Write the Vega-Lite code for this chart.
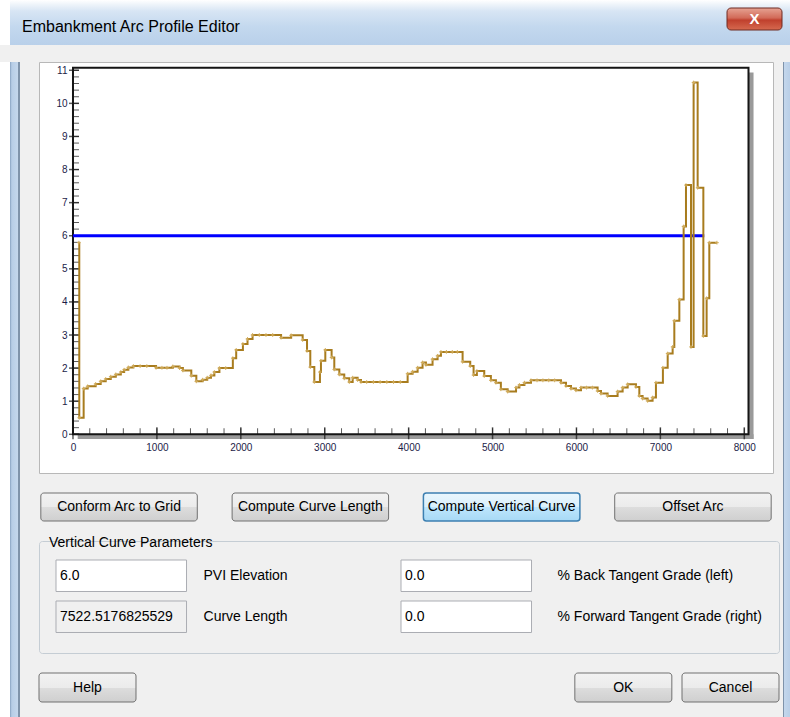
{
  "$schema": "https://vega.github.io/schema/vega-lite/v6.json",
  "background": "#f0f0f0",
  "padding": 0,
  "spacing": 16,
  "config": {
    "view": {"stroke": null},
    "font": "Liberation Sans",
    "text": {"font": "Liberation Sans", "fontSize": 14, "color": "#000000"},
    "title": {"font": "Liberation Sans"},
    "axisX": {"domain": false, "ticks": false, "grid": false, "title": null, "labelFontSize": 10, "labelColor": "#1c1c48", "labelPadding": 8, "offset": -39, "labelFlush": false, "labelOverlap": false, "format": "d"},
    "axisY": {"domain": false, "ticks": false, "grid": false, "title": null, "labelFontSize": 10, "labelColor": "#1c1c48", "labelPadding": 6, "offset": -34, "labelFlush": false, "labelOverlap": false, "format": "d"}
  },
  "datasets": {
    "profile": [
      {"x": 70, "y": 5.79}, {"x": 75, "y": 0.5}, {"x": 127, "y": 1.38}, {"x": 175, "y": 1.45},
      {"x": 270, "y": 1.52}, {"x": 330, "y": 1.6}, {"x": 390, "y": 1.67}, {"x": 450, "y": 1.74},
      {"x": 510, "y": 1.81}, {"x": 570, "y": 1.88}, {"x": 610, "y": 1.95}, {"x": 660, "y": 2.02},
      {"x": 720, "y": 2.06}, {"x": 800, "y": 2.06}, {"x": 880, "y": 2.06}, {"x": 990, "y": 2.01},
      {"x": 1060, "y": 2.01}, {"x": 1120, "y": 2.01}, {"x": 1190, "y": 2.05}, {"x": 1270, "y": 2.0},
      {"x": 1310, "y": 1.93}, {"x": 1410, "y": 1.77}, {"x": 1470, "y": 1.6}, {"x": 1545, "y": 1.65},
      {"x": 1600, "y": 1.71}, {"x": 1645, "y": 1.78}, {"x": 1685, "y": 1.88}, {"x": 1745, "y": 2.0},
      {"x": 1820, "y": 2.0}, {"x": 1905, "y": 2.3}, {"x": 1945, "y": 2.55}, {"x": 2025, "y": 2.73},
      {"x": 2080, "y": 2.88}, {"x": 2140, "y": 3.0}, {"x": 2220, "y": 3.0}, {"x": 2300, "y": 3.0},
      {"x": 2380, "y": 3.0}, {"x": 2480, "y": 2.92}, {"x": 2600, "y": 2.99}, {"x": 2737, "y": 2.85},
      {"x": 2789, "y": 2.52}, {"x": 2828, "y": 2.03}, {"x": 2876, "y": 1.58}, {"x": 2943, "y": 1.88},
      {"x": 2955, "y": 2.22}, {"x": 3007, "y": 2.55}, {"x": 3082, "y": 2.32}, {"x": 3114, "y": 1.96},
      {"x": 3174, "y": 1.81}, {"x": 3233, "y": 1.69}, {"x": 3293, "y": 1.58}, {"x": 3333, "y": 1.71},
      {"x": 3392, "y": 1.64}, {"x": 3432, "y": 1.58}, {"x": 3500, "y": 1.58}, {"x": 3580, "y": 1.58},
      {"x": 3660, "y": 1.58}, {"x": 3740, "y": 1.58}, {"x": 3820, "y": 1.58}, {"x": 3900, "y": 1.58},
      {"x": 3988, "y": 1.83}, {"x": 4047, "y": 1.89}, {"x": 4107, "y": 2.01}, {"x": 4166, "y": 2.17},
      {"x": 4206, "y": 2.1}, {"x": 4285, "y": 2.27}, {"x": 4345, "y": 2.37}, {"x": 4385, "y": 2.49},
      {"x": 4450, "y": 2.49}, {"x": 4520, "y": 2.49}, {"x": 4580, "y": 2.49}, {"x": 4643, "y": 2.19},
      {"x": 4734, "y": 2.06}, {"x": 4774, "y": 1.79}, {"x": 4813, "y": 1.91}, {"x": 4901, "y": 1.76},
      {"x": 4980, "y": 1.63}, {"x": 5040, "y": 1.56}, {"x": 5099, "y": 1.36}, {"x": 5180, "y": 1.29},
      {"x": 5280, "y": 1.41}, {"x": 5320, "y": 1.49}, {"x": 5380, "y": 1.56}, {"x": 5458, "y": 1.63},
      {"x": 5530, "y": 1.63}, {"x": 5600, "y": 1.63}, {"x": 5670, "y": 1.63}, {"x": 5740, "y": 1.63},
      {"x": 5816, "y": 1.56}, {"x": 5875, "y": 1.46}, {"x": 5935, "y": 1.38}, {"x": 5994, "y": 1.33},
      {"x": 6054, "y": 1.41}, {"x": 6120, "y": 1.41}, {"x": 6190, "y": 1.41}, {"x": 6252, "y": 1.31},
      {"x": 6292, "y": 1.23}, {"x": 6371, "y": 1.16}, {"x": 6490, "y": 1.29}, {"x": 6550, "y": 1.41},
      {"x": 6610, "y": 1.51}, {"x": 6709, "y": 1.43}, {"x": 6749, "y": 1.16}, {"x": 6788, "y": 1.08},
      {"x": 6848, "y": 1.01}, {"x": 6907, "y": 1.11}, {"x": 6947, "y": 1.56}, {"x": 7030, "y": 2.01},
      {"x": 7087, "y": 2.44}, {"x": 7146, "y": 2.64}, {"x": 7166, "y": 3.43}, {"x": 7226, "y": 4.07},
      {"x": 7277, "y": 6.28}, {"x": 7305, "y": 7.53}, {"x": 7365, "y": 2.64}, {"x": 7396, "y": 10.63},
      {"x": 7444, "y": 7.45}, {"x": 7512, "y": 2.97}, {"x": 7551, "y": 4.11}, {"x": 7583, "y": 5.79},
      {"x": 7674, "y": 5.79}
    ],
    "pvi": [{"x": 0, "y": 6}, {"x": 7522.5, "y": 6}],
    "xminor": [
      {"v": 0}, {"v": 200}, {"v": 400}, {"v": 600}, {"v": 800}, {"v": 1000}, {"v": 1200}, {"v": 1400},
      {"v": 1600}, {"v": 1800}, {"v": 2000}, {"v": 2200}, {"v": 2400}, {"v": 2600}, {"v": 2800}, {"v": 3000},
      {"v": 3200}, {"v": 3400}, {"v": 3600}, {"v": 3800}, {"v": 4000}, {"v": 4200}, {"v": 4400}, {"v": 4600},
      {"v": 4800}, {"v": 5000}, {"v": 5200}, {"v": 5400}, {"v": 5600}, {"v": 5800}, {"v": 6000}, {"v": 6200},
      {"v": 6400}, {"v": 6600}, {"v": 6800}, {"v": 7000}, {"v": 7200}, {"v": 7400}, {"v": 7600}, {"v": 7800},
      {"v": 8000}
    ],
    "xmajor": [
      {"v": 0}, {"v": 1000}, {"v": 2000}, {"v": 3000}, {"v": 4000}, {"v": 5000}, {"v": 6000}, {"v": 7000}, {"v": 8000}
    ],
    "yminor": [
      {"v": 0}, {"v": 0.2}, {"v": 0.4}, {"v": 0.6}, {"v": 0.8}, {"v": 1}, {"v": 1.2}, {"v": 1.4}, {"v": 1.6}, {"v": 1.8},
      {"v": 2}, {"v": 2.2}, {"v": 2.4}, {"v": 2.6}, {"v": 2.8}, {"v": 3}, {"v": 3.2}, {"v": 3.4}, {"v": 3.6}, {"v": 3.8},
      {"v": 4}, {"v": 4.2}, {"v": 4.4}, {"v": 4.6}, {"v": 4.8}, {"v": 5}, {"v": 5.2}, {"v": 5.4}, {"v": 5.6}, {"v": 5.8},
      {"v": 6}, {"v": 6.2}, {"v": 6.4}, {"v": 6.6}, {"v": 6.8}, {"v": 7}, {"v": 7.2}, {"v": 7.4}, {"v": 7.6}, {"v": 7.8},
      {"v": 8}, {"v": 8.2}, {"v": 8.4}, {"v": 8.6}, {"v": 8.8}, {"v": 9}, {"v": 9.2}, {"v": 9.4}, {"v": 9.6}, {"v": 9.8},
      {"v": 10}, {"v": 10.2}, {"v": 10.4}, {"v": 10.6}, {"v": 10.8}, {"v": 11}
    ],
    "ymajor": [
      {"v": 0}, {"v": 1}, {"v": 2}, {"v": 3}, {"v": 4}, {"v": 5}, {"v": 6}, {"v": 7}, {"v": 8}, {"v": 9}, {"v": 10}, {"v": 11}
    ]
  },
  "vconcat": [
    {
      "width": 790,
      "height": 45,
      "view": {"fill": "#c9dbee", "stroke": null},
      "title": {
        "text": "Embankment Arc Profile Editor",
        "anchor": "start",
        "frame": "group",
        "orient": "top",
        "offset": -43,
        "dx": 22,
        "baseline": "middle",
        "fontSize": 16,
        "fontWeight": "normal",
        "color": "#000000"
      },
      "layer": [
        {
          "data": {"values": [{}]},
          "mark": {
            "type": "rect",
            "fill": {"gradient": "linear", "x1": 0, "y1": 0, "x2": 0, "y2": 1,
              "stops": [{"offset": 0, "color": "#ffffff"}, {"offset": 0.1, "color": "#eef4fa"}, {"offset": 0.25, "color": "#d7e5f4"},
                        {"offset": 0.6, "color": "#c3d8ee"}, {"offset": 1, "color": "#b9d0ea"}]}
          }
        },
        {
          "data": {"values": [{}]},
          "mark": {
            "type": "rect",
            "fill": {"gradient": "linear", "x1": 0, "y1": 0, "x2": 1, "y2": 0,
              "stops": [{"offset": 0, "color": "#ffffff"}, {"offset": 0.0125, "color": "#ffffff"},
                        {"offset": 0.013, "color": "rgba(255,255,255,0)"}, {"offset": 1, "color": "rgba(255,255,255,0)"}]}
          }
        },
        {
          "data": {"values": [{"part": "close", "glyph": "X"}]},
          "encoding": {
            "x": {"field": "part", "type": "nominal", "axis": null,
                  "scale": {"domain": ["close"], "range": [727, 782], "paddingInner": 0, "paddingOuter": 0}},
            "y": {"field": "part", "type": "nominal", "axis": null,
                  "scale": {"domain": ["close"], "paddingInner": 0, "paddingOuter": 0.5227, "align": 0.348}}
          },
          "layer": [
            {
              "mark": {
                "type": "rect", "cornerRadius": 4, "stroke": "#6e2b22", "strokeWidth": 1,
                "fill": {"gradient": "linear", "x1": 0, "y1": 0, "x2": 0, "y2": 1,
                  "stops": [{"offset": 0, "color": "#e6a393"}, {"offset": 0.45, "color": "#d26a58"},
                            {"offset": 0.55, "color": "#c0402d"}, {"offset": 1, "color": "#d66a50"}]}
              }
            },
            {
              "mark": {"type": "text", "color": "#ffffff", "fontWeight": "bold", "fontSize": 15, "baseline": "middle"},
              "encoding": {"text": {"field": "glyph"}}
            }
          ]
        }
      ]
    },
    {
      "spacing": 0,
      "hconcat": [
        {
          "width": 38,
          "height": 656,
          "view": {"stroke": null, "fill": null},
          "data": {"values": [{}]},
          "mark": {
            "type": "rect",
            "fill": {"gradient": "linear", "x1": 0, "y1": 0, "x2": 1, "y2": 0,
              "stops": [{"offset": 0, "color": "#ffffff"}, {"offset": 0.26, "color": "#ffffff"},
                        {"offset": 0.27, "color": "#8ea8c6"}, {"offset": 0.31, "color": "#b7cde6"},
                        {"offset": 0.47, "color": "#c4d7ec"}, {"offset": 0.48, "color": "#7f93aa"},
                        {"offset": 0.52, "color": "#7f93aa"}, {"offset": 0.53, "color": "#f0f0f0"},
                        {"offset": 1, "color": "#f0f0f0"}]}
          }
        },
        {
          "spacing": 20,
          "bounds": "flush",
          "vconcat": [
            {
              "width": 734,
              "height": 411,
              "view": {"fill": "#ffffff", "stroke": "#b8b8b8", "strokeWidth": 1},
              "layer": [
                {
                  "data": {"values": [{}]},
                  "mark": {"type": "rect", "color": "#9a9a9a"},
                  "encoding": {
                    "x": {"datum": 56, "type": "quantitative", "scale": {"domain": [-405, 8342], "nice": false, "zero": false}, "axis": {"values": [0, 1000, 2000, 3000, 4000, 5000, 6000, 7000, 8000]}},
                    "x2": {"datum": 8110},
                    "y": {"datum": -0.14, "type": "quantitative", "scale": {"domain": [-1.17, 11.25], "nice": false, "zero": false}, "axis": {"values": [0, 1, 2, 3, 4, 5, 6, 7, 8, 9, 10, 11]}},
                    "y2": {"datum": 0}
                  }
                },
                {
                  "data": {"values": [{}]},
                  "mark": {"type": "rect", "color": "#9a9a9a"},
                  "encoding": {
                    "x": {"datum": 8050, "type": "quantitative", "scale": {"domain": [-405, 8342], "nice": false, "zero": false}, "axis": {"values": [0, 1000, 2000, 3000, 4000, 5000, 6000, 7000, 8000]}},
                    "x2": {"datum": 8110},
                    "y": {"datum": -0.14, "type": "quantitative", "scale": {"domain": [-1.17, 11.25], "nice": false, "zero": false}, "axis": {"values": [0, 1, 2, 3, 4, 5, 6, 7, 8, 9, 10, 11]}},
                    "y2": {"datum": 10.93}
                  }
                },
                {
                  "data": {"values": [{}]},
                  "mark": {"type": "rect", "fill": null, "stroke": "#151515", "strokeWidth": 2},
                  "encoding": {
                    "x": {"datum": 0, "type": "quantitative", "scale": {"domain": [-405, 8342], "nice": false, "zero": false}, "axis": {"values": [0, 1000, 2000, 3000, 4000, 5000, 6000, 7000, 8000]}},
                    "x2": {"datum": 8050},
                    "y": {"datum": 0, "type": "quantitative", "scale": {"domain": [-1.17, 11.25], "nice": false, "zero": false}, "axis": {"values": [0, 1, 2, 3, 4, 5, 6, 7, 8, 9, 10, 11]}},
                    "y2": {"datum": 11.08}
                  }
                },
                {
                  "data": {"name": "xminor"},
                  "mark": {"type": "tick", "orient": "vertical", "size": 6, "thickness": 1, "color": "#151515", "yOffset": -3},
                  "encoding": {
                    "x": {"field": "v", "type": "quantitative", "scale": {"domain": [-405, 8342], "nice": false, "zero": false}, "axis": {"values": [0, 1000, 2000, 3000, 4000, 5000, 6000, 7000, 8000]}},
                    "y": {"datum": 0, "type": "quantitative", "scale": {"domain": [-1.17, 11.25], "nice": false, "zero": false}, "axis": {"values": [0, 1, 2, 3, 4, 5, 6, 7, 8, 9, 10, 11]}}
                  }
                },
                {
                  "data": {"name": "xmajor"},
                  "mark": {"type": "tick", "orient": "vertical", "size": 12, "thickness": 1.5, "color": "#151515", "yOffset": -1},
                  "encoding": {
                    "x": {"field": "v", "type": "quantitative", "scale": {"domain": [-405, 8342], "nice": false, "zero": false}, "axis": {"values": [0, 1000, 2000, 3000, 4000, 5000, 6000, 7000, 8000]}},
                    "y": {"datum": 0, "type": "quantitative", "scale": {"domain": [-1.17, 11.25], "nice": false, "zero": false}, "axis": {"values": [0, 1, 2, 3, 4, 5, 6, 7, 8, 9, 10, 11]}}
                  }
                },
                {
                  "data": {"name": "yminor"},
                  "mark": {"type": "tick", "orient": "horizontal", "size": 6, "thickness": 1, "color": "#151515", "xOffset": 3},
                  "encoding": {
                    "x": {"datum": 0, "type": "quantitative", "scale": {"domain": [-405, 8342], "nice": false, "zero": false}, "axis": {"values": [0, 1000, 2000, 3000, 4000, 5000, 6000, 7000, 8000]}},
                    "y": {"field": "v", "type": "quantitative", "scale": {"domain": [-1.17, 11.25], "nice": false, "zero": false}, "axis": {"values": [0, 1, 2, 3, 4, 5, 6, 7, 8, 9, 10, 11]}}
                  }
                },
                {
                  "data": {"name": "ymajor"},
                  "mark": {"type": "tick", "orient": "horizontal", "size": 10, "thickness": 1.5, "color": "#151515", "xOffset": 1},
                  "encoding": {
                    "x": {"datum": 0, "type": "quantitative", "scale": {"domain": [-405, 8342], "nice": false, "zero": false}, "axis": {"values": [0, 1000, 2000, 3000, 4000, 5000, 6000, 7000, 8000]}},
                    "y": {"field": "v", "type": "quantitative", "scale": {"domain": [-1.17, 11.25], "nice": false, "zero": false}, "axis": {"values": [0, 1, 2, 3, 4, 5, 6, 7, 8, 9, 10, 11]}}
                  }
                },
                {
                  "data": {"name": "pvi"},
                  "mark": {"type": "line", "color": "#0000ff", "strokeWidth": 3},
                  "encoding": {
                    "x": {"field": "x", "type": "quantitative", "scale": {"domain": [-405, 8342], "nice": false, "zero": false}, "axis": {"values": [0, 1000, 2000, 3000, 4000, 5000, 6000, 7000, 8000]}},
                    "y": {"field": "y", "type": "quantitative", "scale": {"domain": [-1.17, 11.25], "nice": false, "zero": false}, "axis": {"values": [0, 1, 2, 3, 4, 5, 6, 7, 8, 9, 10, 11]}}
                  }
                },
                {
                  "data": {"name": "profile"},
                  "mark": {"type": "line", "interpolate": "step-after", "color": "#a87c1e", "strokeWidth": 2},
                  "encoding": {
                    "x": {"field": "x", "type": "quantitative", "scale": {"domain": [-405, 8342], "nice": false, "zero": false}, "axis": {"values": [0, 1000, 2000, 3000, 4000, 5000, 6000, 7000, 8000]}},
                    "y": {"field": "y", "type": "quantitative", "scale": {"domain": [-1.17, 11.25], "nice": false, "zero": false}, "axis": {"values": [0, 1, 2, 3, 4, 5, 6, 7, 8, 9, 10, 11]}}
                  }
                },
                {
                  "data": {"name": "profile"},
                  "mark": {"type": "point", "shape": "M-1,0L1,0M0,-1L0,1", "size": 14, "filled": false, "stroke": "#d2ad5c", "strokeWidth": 1, "opacity": 1},
                  "encoding": {
                    "x": {"field": "x", "type": "quantitative", "scale": {"domain": [-405, 8342], "nice": false, "zero": false}, "axis": {"values": [0, 1000, 2000, 3000, 4000, 5000, 6000, 7000, 8000]}},
                    "y": {"field": "y", "type": "quantitative", "scale": {"domain": [-1.17, 11.25], "nice": false, "zero": false}, "axis": {"values": [0, 1, 2, 3, 4, 5, 6, 7, 8, 9, 10, 11]}}
                  }
                }
              ]
            },
            {
              "width": 734,
              "height": 28,
              "data": {"values": [
                {"label": "Conform Arc to Grid", "state": "normal"},
                {"label": "Compute Curve Length", "state": "normal"},
                {"label": "Compute Vertical Curve", "state": "default"},
                {"label": "Offset Arc", "state": "normal"}
              ]},
              "encoding": {
                "x": {"field": "label", "type": "nominal", "axis": null,
                      "scale": {"domain": ["Conform Arc to Grid", "Compute Curve Length", "Compute Vertical Curve", "Offset Arc"],
                                "paddingInner": 0.182, "paddingOuter": 0.0095}}
              },
              "layer": [
                {
                  "transform": [{"filter": "datum.state === 'normal'"}],
                  "mark": {
                    "type": "rect", "cornerRadius": 3, "stroke": "#707070", "strokeWidth": 1,
                    "fill": {"gradient": "linear", "x1": 0, "y1": 0, "x2": 0, "y2": 1,
                      "stops": [{"offset": 0, "color": "#f2f2f2"}, {"offset": 0.5, "color": "#ebebeb"},
                                {"offset": 0.5, "color": "#dddddd"}, {"offset": 1, "color": "#cfcfcf"}]}
                  }
                },
                {
                  "transform": [{"filter": "datum.state === 'default'"}],
                  "mark": {
                    "type": "rect", "cornerRadius": 3, "stroke": "#3c7fb1", "strokeWidth": 1.5,
                    "fill": {"gradient": "linear", "x1": 0, "y1": 0, "x2": 0, "y2": 1,
                      "stops": [{"offset": 0, "color": "#eaf6fd"}, {"offset": 0.5, "color": "#d9f0fc"},
                                {"offset": 0.5, "color": "#bee6fd"}, {"offset": 1, "color": "#a7d9f5"}]}
                  }
                },
                {
                  "mark": {"type": "text", "fontSize": 14, "baseline": "middle", "color": "#000000"},
                  "encoding": {"text": {"field": "label"}}
                }
              ]
            },
            {
              "width": 740,
              "height": 112,
              "view": {"stroke": "#c5cdd4", "cornerRadius": 3, "fill": null},
              "title": {
                "text": "Vertical Curve Parameters",
                "anchor": "start",
                "frame": "group",
                "orient": "top",
                "offset": -16,
                "dx": 10,
                "baseline": "middle",
                "fontSize": 14,
                "fontWeight": "normal",
                "color": "#000000"
              },
              "data": {"values": [
                {"row": "r1", "col": "A", "value": "6.0", "label": "PVI Elevation", "state": "editable"},
                {"row": "r1", "col": "B", "value": "0.0", "label": "% Back Tangent Grade (left)", "state": "editable"},
                {"row": "r2", "col": "A", "value": "7522.5176825529", "label": "Curve Length", "state": "readonly"},
                {"row": "r2", "col": "B", "value": "0.0", "label": "% Forward Tangent Grade (right)", "state": "editable"}
              ]},
              "encoding": {
                "y": {"field": "row", "type": "nominal", "axis": null,
                      "scale": {"domain": ["r1", "r2"], "paddingInner": 0.232, "paddingOuter": 0.4818, "align": 0.481}}
              },
              "layer": [
                {
                  "mark": {"type": "rect", "stroke": "#abadb3", "strokeWidth": 1},
                  "encoding": {
                    "x": {"field": "col", "type": "nominal", "axis": null,
                          "scale": {"domain": ["A", "B"], "paddingInner": 0.6217, "paddingOuter": 0.3833, "align": 0.0643}},
                    "fill": {"field": "state", "type": "nominal", "legend": null,
                             "scale": {"domain": ["editable", "readonly"], "range": ["#ffffff", "#f0f0f0"]}}
                  }
                },
                {
                  "mark": {"type": "text", "align": "left", "baseline": "middle", "dx": 4, "fontSize": 14, "color": "#000000"},
                  "encoding": {
                    "x": {"field": "col", "type": "nominal", "axis": null, "bandPosition": 0,
                          "scale": {"domain": ["A", "B"], "paddingInner": 0.6217, "paddingOuter": 0.3833, "align": 0.0643}},
                    "text": {"field": "value"}
                  }
                },
                {
                  "transform": [{"filter": "datum.col === 'A'"}],
                  "mark": {"type": "text", "align": "left", "baseline": "middle", "dx": 17, "fontSize": 14, "color": "#000000"},
                  "encoding": {
                    "x": {"field": "col", "type": "nominal", "axis": null, "bandPosition": 1,
                          "scale": {"domain": ["A", "B"], "paddingInner": 0.6217, "paddingOuter": 0.3833, "align": 0.0643}},
                    "text": {"field": "label"}
                  }
                },
                {
                  "transform": [{"filter": "datum.col === 'B'"}],
                  "mark": {"type": "text", "align": "left", "baseline": "middle", "dx": 26, "fontSize": 14, "color": "#000000"},
                  "encoding": {
                    "x": {"field": "col", "type": "nominal", "axis": null, "bandPosition": 1,
                          "scale": {"domain": ["A", "B"], "paddingInner": 0.6217, "paddingOuter": 0.3833, "align": 0.0643}},
                    "text": {"field": "label"}
                  }
                }
              ]
            },
            {
              "width": 740,
              "height": 29,
              "data": {"values": [{"label": "Help"}, {"label": "OK"}, {"label": "Cancel"}]},
              "encoding": {
                "x": {"field": "label", "type": "nominal", "axis": null,
                      "scale": {"domain": ["Help", "s1", "s2", "s3", "s4", "OK", "Cancel"], "paddingInner": 0.0949, "paddingOuter": 0}}
              },
              "layer": [
                {
                  "mark": {
                    "type": "rect", "cornerRadius": 3, "stroke": "#707070", "strokeWidth": 1,
                    "fill": {"gradient": "linear", "x1": 0, "y1": 0, "x2": 0, "y2": 1,
                      "stops": [{"offset": 0, "color": "#f2f2f2"}, {"offset": 0.5, "color": "#ebebeb"},
                                {"offset": 0.5, "color": "#dddddd"}, {"offset": 1, "color": "#cfcfcf"}]}
                  }
                },
                {
                  "mark": {"type": "text", "fontSize": 14, "baseline": "middle", "color": "#000000"},
                  "encoding": {"text": {"field": "label"}}
                }
              ]
            }
          ]
        },
        {
          "width": 11,
          "height": 656,
          "view": {"stroke": null, "fill": null},
          "data": {"values": [{}]},
          "mark": {
            "type": "rect",
            "fill": {"gradient": "linear", "x1": 0, "y1": 0, "x2": 1, "y2": 0,
              "stops": [{"offset": 0, "color": "#f0f0f0"}, {"offset": 0.27, "color": "#f0f0f0"},
                        {"offset": 0.28, "color": "#7f93aa"}, {"offset": 0.36, "color": "#7f93aa"},
                        {"offset": 0.37, "color": "#c4d7ec"}, {"offset": 1, "color": "#b7cde6"}]}
          }
        }
      ]
    }
  ]
}
